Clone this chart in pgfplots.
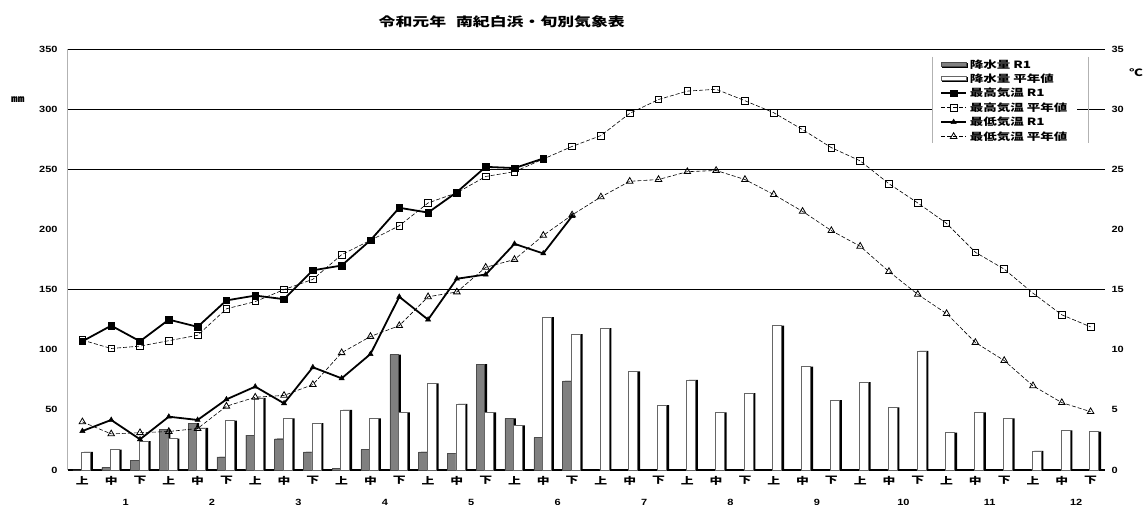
\documentclass[border=0pt]{standalone}
\usepackage{pgfplots}
\usepackage{pgfplotstable}
\pgfplotsset{compat=1.18}
\usepackage{fontspec}
\setmainfont{Liberation Sans}[FakeStretch=1.22]
\newfontfamily\jp{Noto Sans CJK JP}[FakeStretch=1.35]
\definecolor{rain}{RGB}{128,128,128}

\pgfplotstableread{
i v
0 0
1 2
2 8
3 34
4 39
5 11
6 29
7 26
8 15
9 1.5
10 17
11 96
12 15
13 14
14 88
15 43
16 27
17 74
}\rainR

\pgfplotstableread{
i v
0 15
1 17
2 24
3 26
4 35
5 41
6 60
7 43
8 39
9 50
10 43
11 48
12 72
13 55
14 48
15 37
16 127
17 113
18 118
19 82
20 54
21 75
22 48
23 64
24 120
25 86
26 58
27 73
28 52
29 99
30 31
31 48
32 43
33 16
34 33
35 32
}\rainN

\pgfplotstableread{
i v
0 10.7
1 12.0
2 10.7
3 12.5
4 11.9
5 14.1
6 14.5
7 14.2
8 16.6
9 17.0
10 19.1
11 21.8
12 21.4
13 23.1
14 25.2
15 25.1
16 25.9
}\tmaxR

\pgfplotstableread{
i v
0 10.8
1 10.1
2 10.3
3 10.75
4 11.2
5 13.4
6 14.0
7 15.0
8 15.85
9 17.9
10 19.1
11 20.3
12 22.2
13 23.05
14 24.4
15 24.8
16 25.85
17 26.9
18 27.8
19 29.65
20 30.8
21 31.5
22 31.65
23 30.7
24 29.7
25 28.3
26 26.8
27 25.7
28 23.8
29 22.2
30 20.5
31 18.1
32 16.7
33 14.7
34 12.9
35 11.9
}\tmaxN

\pgfplotstableread{
i v
0 3.24
1 4.16
2 2.55
3 4.43
4 4.16
5 5.87
6 6.93
7 5.54
8 8.54
9 7.62
10 9.64
11 14.4
12 12.5
13 15.9
14 16.25
15 18.8
16 18.0
17 21.1
}\tminR

\pgfplotstableread{
i v
0 4.0
1 3.0
2 3.1
3 3.2
4 3.45
5 5.3
6 6.05
7 6.2
8 7.1
9 9.75
10 11.1
11 12.0
12 14.4
13 14.8
14 16.85
15 17.5
16 19.5
17 21.2
18 22.7
19 24.0
20 24.15
21 24.8
22 24.9
23 24.15
24 22.9
25 21.5
26 19.9
27 18.6
28 16.5
29 14.6
30 13.0
31 10.6
32 9.1
33 7.0
34 5.6
35 4.85
}\tminN

\begin{document}
\begin{tikzpicture}
\begin{axis}[
  at={(0pt,0pt)}, anchor=south west,
  scale only axis, width=1037pt, height=421pt,
  xmin=-0.5, xmax=35.5, ymin=0, ymax=350,
  axis x line*=bottom, axis y line*=left,
  x axis line style={black, line width=1.2pt, -},
  y axis line style={gray!60, line width=1pt, -},
  xtick={0,...,35},
  xticklabels={上,中,下,上,中,下,上,中,下,上,中,下,上,中,下,上,中,下,上,中,下,上,中,下,上,中,下,上,中,下,上,中,下,上,中,下},
  xticklabel style={font=\jp\bfseries\fontsize{9.5}{10}\selectfont, yshift=-3pt},
  ytick={0,50,...,350},
  yticklabel style={font=\bfseries\fontsize{9}{9}\selectfont, xshift=-7pt},
  /pgf/number format/assume math mode=true,
  major tick length=0pt,
  extra y ticks={150,250,300,350}, extra y tick labels={},
  extra y tick style={grid=major, major grid style={black, line width=0.9pt}},
  clip=false,
]
\addplot[ybar, bar width=8.5pt, bar shift=-2.75pt, fill=black, draw=none] table[x=i,y=v] {\rainR};
\addplot[ybar, bar width=8.5pt, bar shift=-5.25pt, fill=rain, draw=black!70, line width=0.4pt] table[x=i,y=v] {\rainR};
\addplot[ybar, bar width=9pt, bar shift=6pt, fill=black, draw=none] table[x=i,y=v] {\rainN};
\addplot[ybar, bar width=9pt, bar shift=3.5pt, fill=white, draw=black!60, line width=0.5pt] table[x=i,y=v] {\rainN};
\node[font=\bfseries\fontsize{9}{9}\selectfont] at (axis cs:1.5,0) [yshift=-32pt] {1};
\node[font=\bfseries\fontsize{9}{9}\selectfont] at (axis cs:4.5,0) [yshift=-32pt] {2};
\node[font=\bfseries\fontsize{9}{9}\selectfont] at (axis cs:7.5,0) [yshift=-32pt] {3};
\node[font=\bfseries\fontsize{9}{9}\selectfont] at (axis cs:10.5,0) [yshift=-32pt] {4};
\node[font=\bfseries\fontsize{9}{9}\selectfont] at (axis cs:13.5,0) [yshift=-32pt] {5};
\node[font=\bfseries\fontsize{9}{9}\selectfont] at (axis cs:16.5,0) [yshift=-32pt] {6};
\node[font=\bfseries\fontsize{9}{9}\selectfont] at (axis cs:19.5,0) [yshift=-32pt] {7};
\node[font=\bfseries\fontsize{9}{9}\selectfont] at (axis cs:22.5,0) [yshift=-32pt] {8};
\node[font=\bfseries\fontsize{9}{9}\selectfont] at (axis cs:25.5,0) [yshift=-32pt] {9};
\node[font=\bfseries\fontsize{9}{9}\selectfont] at (axis cs:28.5,0) [yshift=-32pt] {10};
\node[font=\bfseries\fontsize{9}{9}\selectfont] at (axis cs:31.5,0) [yshift=-32pt] {11};
\node[font=\bfseries\fontsize{9}{9}\selectfont] at (axis cs:34.5,0) [yshift=-32pt] {12};
\end{axis}

\begin{axis}[
  at={(0pt,0pt)}, anchor=south west,
  scale only axis, width=1037pt, height=421pt,
  xmin=-0.5, xmax=35.5, ymin=0, ymax=35,
  hide x axis,
  axis y line*=right,
  y axis line style={draw=none},
  ytick={0,5,...,35},
  yticklabel style={font=\bfseries\fontsize{9}{9}\selectfont, xshift=3pt},
  /pgf/number format/assume math mode=true,
  major tick length=0pt,
  clip=false,
  legend style={at={(0.8332,0.985)}, anchor=north west, draw=none, fill=white,
    font=\jp\bfseries\fontsize{10}{10}\selectfont, row sep=0.3pt,
    inner xsep=8pt, nodes={inner sep=2pt}},
  legend cell align=left,
  legend image code/.code={\draw[mark repeat=2,mark phase=2,#1] plot coordinates {(0pt,0pt) (12.5pt,0pt) (25pt,0pt)};},
]
\addlegendimage{legend image code/.code={\fill[black] (1.5pt,-2.5pt) rectangle (26.5pt,1.5pt); \filldraw[fill=rain, draw=black!70] (0pt,-1.5pt) rectangle (25pt,2.5pt);}}
\addlegendentry{降水量 R1}
\addlegendimage{legend image code/.code={\fill[black] (1.5pt,-2.5pt) rectangle (26.5pt,1.5pt); \filldraw[fill=white, draw=black!60] (0pt,-1.5pt) rectangle (25pt,2.5pt);}}
\addlegendentry{降水量 平年値}
\addplot[black, line width=1.8pt, mark=square*, mark size=3.3pt, mark options={solid, line width=0.5pt}] table[x=i,y=v] {\tmaxR};
\addlegendentry{最高気温 R1}
\addplot[black, line width=0.6pt, dash pattern=on 4pt off 2pt, mark=square, mark size=3.3pt, mark options={solid, fill=white, line width=0.8pt}] table[x=i,y=v] {\tmaxN};
\addlegendentry{最高気温 平年値}
\addplot[black, line width=1.8pt, mark=triangle*, mark size=3pt, mark options={solid, line width=0.5pt}] table[x=i,y=v] {\tminR};
\addlegendentry{最低気温 R1}
\addplot[black, line width=0.6pt, dash pattern=on 4pt off 2pt, mark=triangle, mark size=3.8pt, mark options={solid, fill=white, line width=0.8pt}] table[x=i,y=v] {\tminN};
\addlegendentry{最低気温 平年値}
\end{axis}

\node[font=\jp\bfseries\fontsize{12.5}{13}\selectfont] at (433.7pt,448pt) {令和元年\hspace{6pt} 南紀白浜・旬別気象表};
\node[font=\jp\bfseries\fontsize{10}{10}\selectfont] at (-50pt,370pt) {㎜};
\node[font=\jp\bfseries\fontsize{10}{10}\selectfont] at (1068pt,397pt) {℃};
\draw[gray!60, line width=0.8pt] (864pt,413pt) -- (864pt,327pt);
\draw[gray!60, line width=0.8pt] (1020pt,413pt) -- (1020pt,327pt);

\pgfresetboundingbox
\path[use as bounding box] (-68pt,-35pt) rectangle (1077pt,470pt);
\end{tikzpicture}
\end{document}
